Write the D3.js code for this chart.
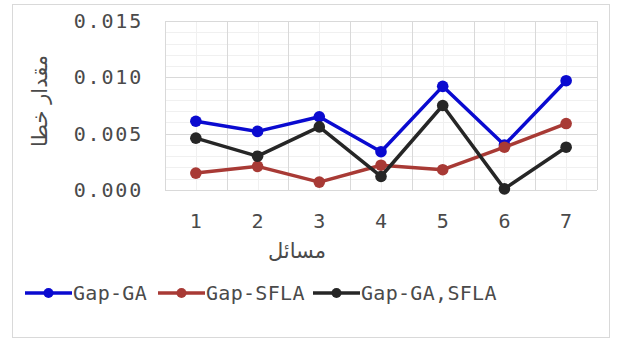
<!DOCTYPE html>
<html><head><meta charset="utf-8">
<script src="https://cdn.jsdelivr.net/npm/d3@7"></script>
<style>body{margin:0;background:#fff}svg{display:block}</style>
</head><body>
<svg id="c" width="619" height="340"></svg>
<script>
const categories = ["1","2","3","4","5","6","7"];
const gapGA = [0.0061, 0.0052, 0.0065, 0.0034, 0.0092, 0.0040, 0.0097];
const gapSFLA = [0.0015, 0.0021, 0.0007, 0.0022, 0.0018, 0.0038, 0.0059];
const gapGASFLA = [0.0046, 0.0030, 0.0056, 0.0012, 0.0075, 0.0001, 0.0038];
const yTicks = [0, 0.005, 0.010, 0.015];
const seriesNames = ["Gap-GA", "Gap-SFLA", "Gap-GA,SFLA"];
const colors = ["#0a0ad0", "#a83a35", "#262626"];
const xTitle = "مسائل";
const yTitle = "مقدار خطا";

const svg = d3.select("#c");
svg.append("rect").attr("x",12.5).attr("y",4.5).attr("width",597).attr("height",333)
  .attr("fill","#fff").attr("stroke","#d9d9d9");

const L=165, R=597, T=21, B=190;
const x = d3.scaleBand().domain(categories).range([L,R]).padding(0);
const y = d3.scaleLinear().domain([0,0.015]).range([B,T]);
const cx = c => x(c) + x.bandwidth()/2;

const g = svg.append("g");
g.selectAll(".mh").data(d3.range(0,0.0151,0.001)).join("line")
  .attr("x1",L).attr("x2",R).attr("y1",d=>Math.round(y(d))+0.5).attr("y2",d=>Math.round(y(d))+0.5)
  .attr("stroke","#f0f0f0");
g.selectAll(".mv").data(categories).join("line")
  .attr("x1",d=>Math.round(cx(d))+0.5).attr("x2",d=>Math.round(cx(d))+0.5).attr("y1",T).attr("y2",B)
  .attr("stroke","#f0f0f0");
g.selectAll(".h").data(yTicks).join("line")
  .attr("x1",L).attr("x2",R).attr("y1",d=>Math.round(y(d))+0.5).attr("y2",d=>Math.round(y(d))+0.5)
  .attr("stroke","#d9d9d9");
g.selectAll(".v").data(categories.map(c=>x(c)).concat([R])).join("line")
  .attr("x1",d=>Math.round(d)+0.5).attr("x2",d=>Math.round(d)+0.5).attr("y1",T).attr("y2",B)
  .attr("stroke","#d9d9d9");

const mono = "'DejaVu Sans Mono', monospace";
const txt = "#4a4a4a";
svg.selectAll(".yt").data(yTicks).join("text")
  .attr("x",143).attr("y",d=>y(d)+7).attr("text-anchor","end")
  .attr("font-family",mono).attr("font-size",20).attr("letter-spacing",1.8)
  .attr("fill",txt).text(d=>d3.format(".3f")(d));
svg.selectAll(".xt").data(categories).join("text")
  .attr("x",d=>cx(d)).attr("y",228).attr("text-anchor","middle")
  .attr("font-family",mono).attr("font-size",20)
  .attr("fill",txt).text(d=>d);

svg.append("text").attr("x",297).attr("y",258).attr("text-anchor","middle")
  .attr("font-family","'DejaVu Sans'").attr("font-size",21).attr("fill",txt).text(xTitle);
svg.append("text").attr("transform","translate(47,101) rotate(-90)").attr("text-anchor","middle")
  .attr("font-family","'DejaVu Sans'").attr("font-size",21).attr("fill",txt).text(yTitle);

const allSeries = [gapGA, gapSFLA, gapGASFLA];
const line = d3.line().x((d,i)=>cx(categories[i])).y(d=>y(d));
allSeries.forEach((s,k)=>{
  svg.append("path").datum(s).attr("d",line).attr("fill","none")
    .attr("stroke",colors[k]).attr("stroke-width",3.5).attr("stroke-linejoin","round");
  svg.selectAll(".p"+k).data(s).join("circle")
    .attr("cx",(d,i)=>cx(categories[i])).attr("cy",d=>y(d)).attr("r",5.8)
    .attr("fill",colors[k]);
});

const legX = [25, 158, 313];
seriesNames.forEach((n,k)=>{
  const lx = legX[k];
  svg.append("line").attr("x1",lx).attr("x2",lx+47).attr("y1",293).attr("y2",293)
    .attr("stroke",colors[k]).attr("stroke-width",3.5);
  svg.append("circle").attr("cx",lx+23.5).attr("cy",293).attr("r",5).attr("fill",colors[k]);
  svg.append("text").attr("x",lx+48).attr("y",300)
    .attr("font-family",mono).attr("font-size",20).attr("letter-spacing",0.3)
    .attr("fill",txt).text(n);
});
</script>
</body></html>
